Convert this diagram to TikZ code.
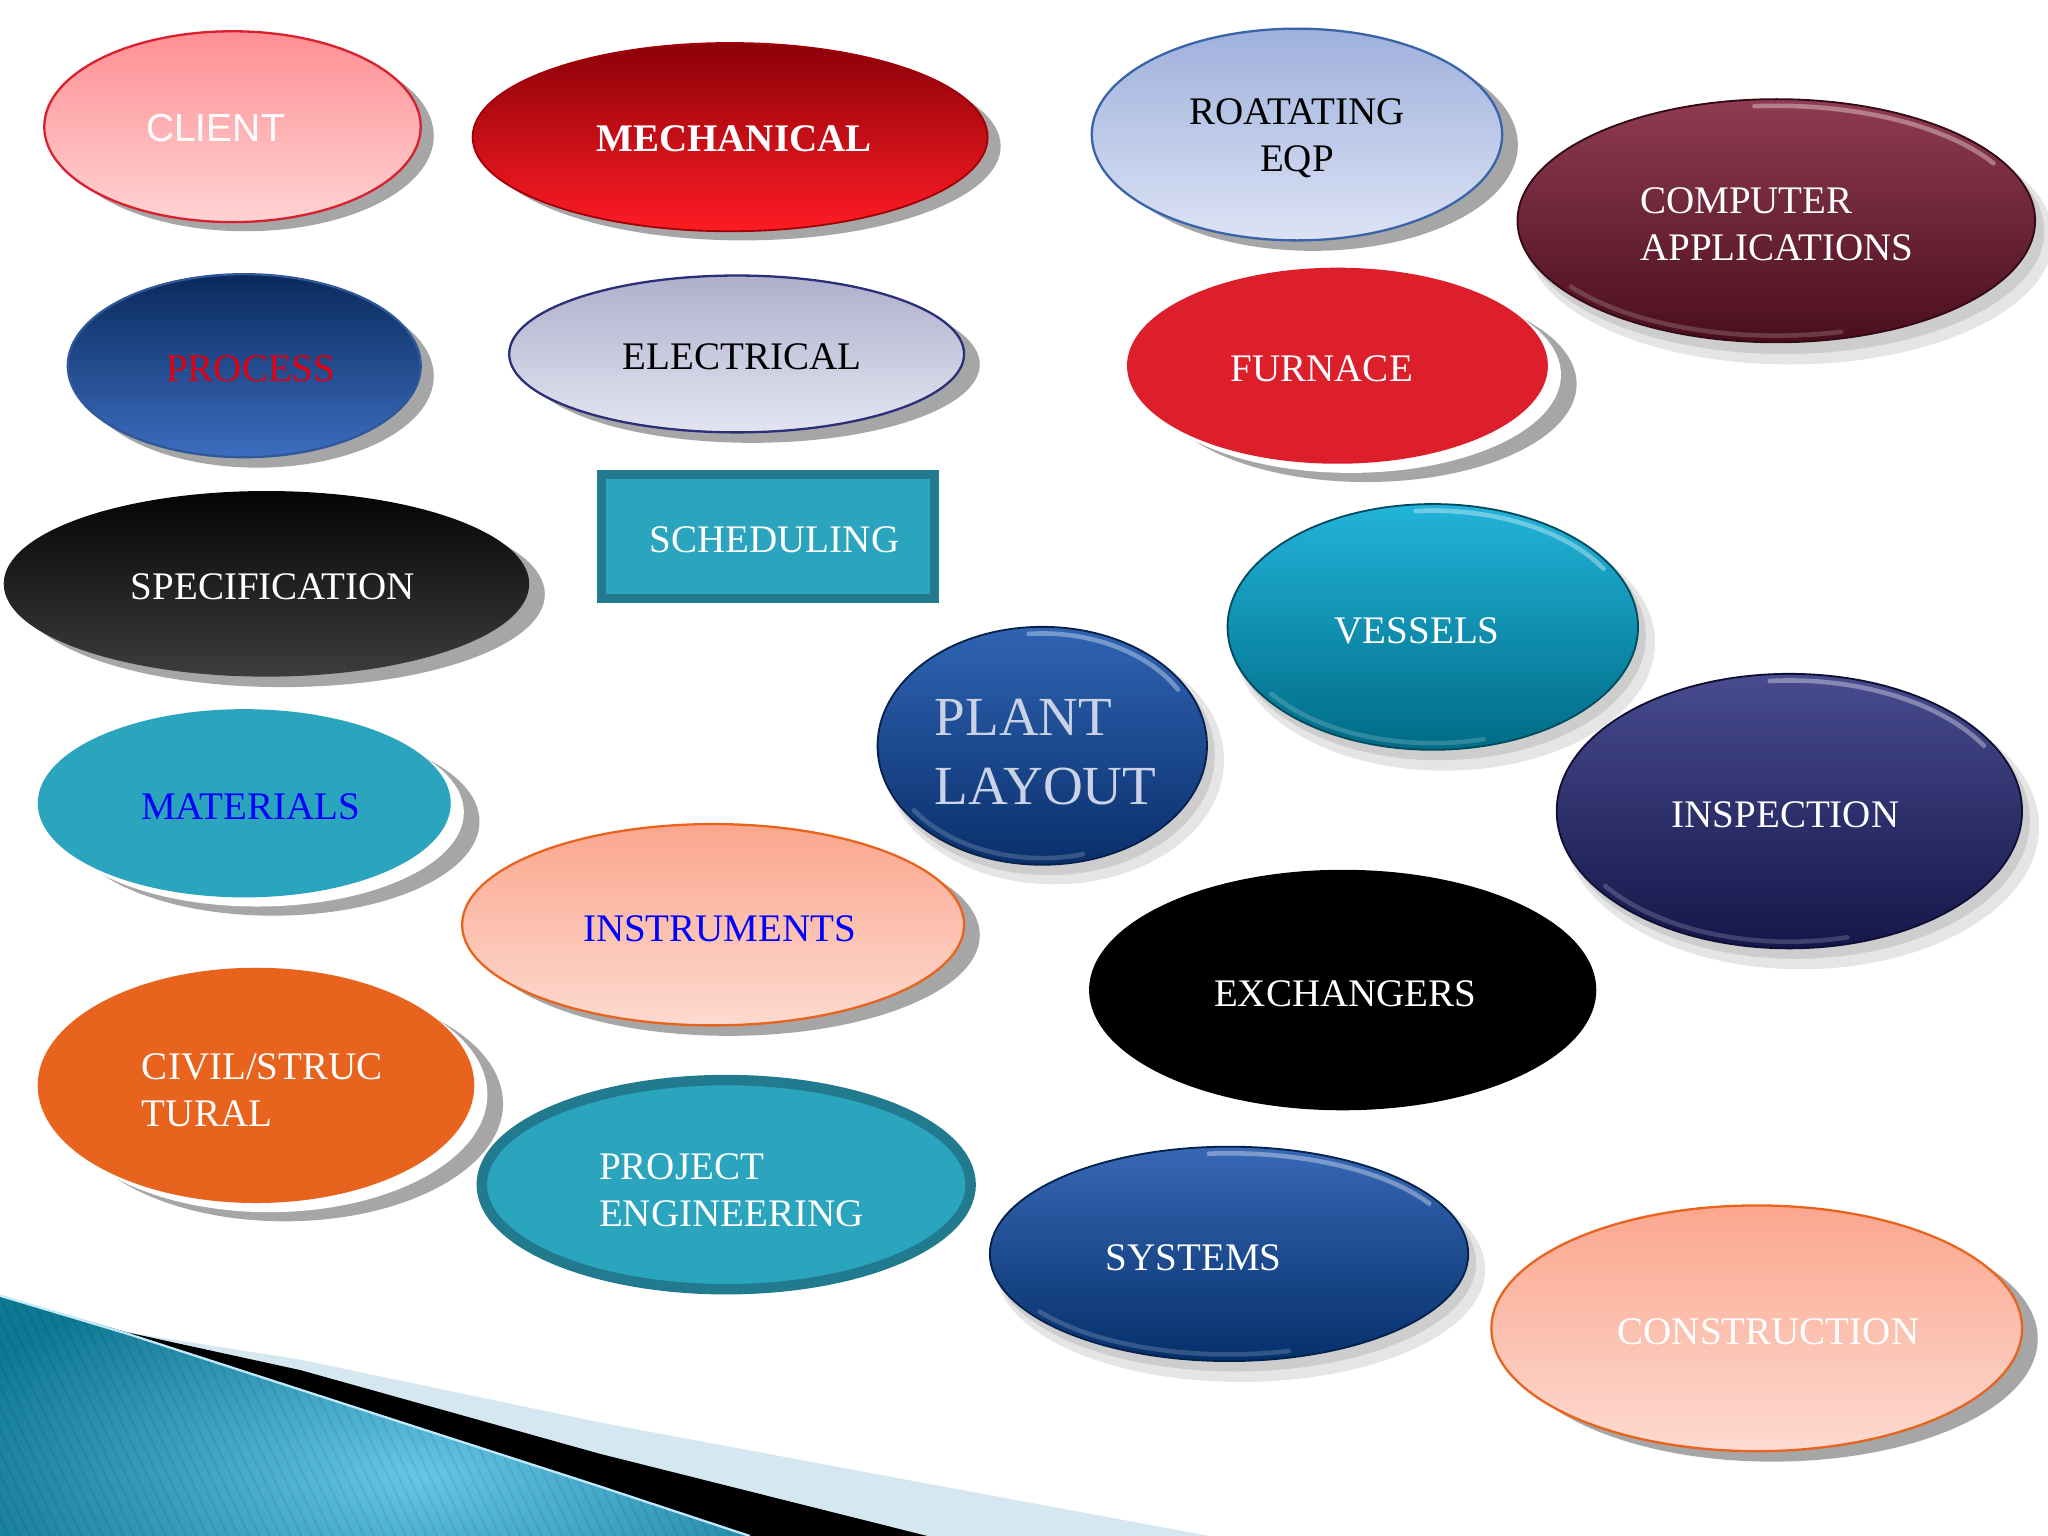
\documentclass[tikz,border=0pt]{standalone}
\usepackage{fontspec}
\setmainfont{Liberation Serif}
\setsansfont{Liberation Sans}
\usetikzlibrary{shapes.geometric,calc}
\definecolor{shgray}{HTML}{A6A6A6}
\definecolor{pinkT}{HTML}{FF8F94}
\definecolor{pinkB}{HTML}{FFD3D3}
\definecolor{clientline}{HTML}{D9202E}
\definecolor{mechT}{HTML}{8B0008}
\definecolor{mechB}{HTML}{FF1C24}
\definecolor{rotT}{HTML}{9EB0DC}
\definecolor{rotB}{HTML}{DCE3F5}
\definecolor{rotline}{HTML}{3A64A8}
\definecolor{compT}{HTML}{8F3B53}
\definecolor{compB}{HTML}{4A0E1E}
\definecolor{procT}{HTML}{0A2A5C}
\definecolor{procB}{HTML}{3C6DC0}
\definecolor{elecT}{HTML}{AEAFCB}
\definecolor{elecB}{HTML}{E4E5F2}
\definecolor{elecline}{HTML}{2B2F78}
\definecolor{furn}{HTML}{DC1F2A}
\definecolor{tealA}{HTML}{2BA4BE}
\definecolor{tealD}{HTML}{217A8E}
\definecolor{specT}{HTML}{040406}
\definecolor{specB}{HTML}{3D3D3F}
\definecolor{vesT}{HTML}{22B4DA}
\definecolor{vesB}{HTML}{006B86}
\definecolor{plantT}{HTML}{2F64B4}
\definecolor{plantB}{HTML}{0A2F6B}
\definecolor{plantTxt}{HTML}{CAD3E6}
\definecolor{inspT}{HTML}{484B8E}
\definecolor{inspB}{HTML}{15164A}
\definecolor{salT}{HTML}{FBA68E}
\definecolor{salB}{HTML}{FDDAD0}
\definecolor{orangeL}{HTML}{E8641E}
\definecolor{sysT}{HTML}{3868B5}
\definecolor{sysB}{HTML}{05306B}
\definecolor{bandL}{HTML}{D5E7F1}
\definecolor{decoDark}{HTML}{0E7892}
\definecolor{decoLight}{HTML}{66C6E8}
\definecolor{txtblue}{HTML}{0000FF}
\definecolor{txtred}{HTML}{E00010}
\newcommand\lblfont{\fontsize{8.5pt}{10.25pt}\selectfont}
\newcommand\glosshl[4]{%
  \draw[white, opacity=0.35, line width=0.035cm, line cap=round]
    ($(#1,#2)+(-95:#3 and #4)$) arc[start angle=-95, end angle=-30, x radius=#3, y radius=#4];
  \draw[white, opacity=0.18, line width=0.035cm, line cap=round]
    ($(#1,#2)+(75:#3 and #4)$) arc[start angle=75, end angle=145, x radius=#3, y radius=#4];
}
\tikzset{
  blob/.style 2 args={ellipse, inner sep=0pt, outer sep=0pt, minimum width=#1*0.02cm, minimum height=#2*0.02cm},
  sh/.style={fill=shgray, draw=none},
  soft/.style={fill=black, opacity=0.1, draw=none},
  gap/.style={fill=white, draw=none},
  lbl/.style={font=\lblfont, inner sep=0pt, text=white},
  lblL/.style={lbl, align=left, anchor=west},
}
\begin{document}
\begin{tikzpicture}[x=0.01cm, y=-0.01cm]
\useasboundingbox (0,0) rectangle (1568,1176);
\fill[white] (0,0) rectangle (1568,1176);

% ---- bottom-left decoration ----
\fill[bandL] (97,1020) -- (230,1041) -- (459,1089) -- (689,1132) -- (926,1176) -- (0,1176) -- (0,992) -- cycle;
\fill[black] (97,1020) -- (230,1049) -- (459,1113) -- (710,1176) -- (0,1176) -- (0,992) -- cycle;
\begin{scope}
  \clip (0,992) -- (97,1021) -- (230,1064) -- (459,1138) -- (574,1176) -- (0,1176) -- cycle;
  \shade[inner color=decoLight, outer color=decoDark] (-60,960) rectangle (700,1300);
  \foreach \i in {-300,-292,...,600} \draw[black, opacity=0.07, line width=0.4pt] (\i,985) -- ++(95,200);
\end{scope}
\draw[white!75!cyan, line width=0.5pt] (0,992) -- (97,1021) -- (230,1064) -- (459,1138) -- (574,1176);

% ---- CLIENT ----
\node[blob={144}{73}, sh] (clientS) at (188,104) {};
\node[blob={144}{73}, top color=pinkT, bottom color=pinkB, draw=clientline, line width=0.5pt] (client) at (178,97) {};
\node[lbl, font=\sffamily\lblfont] (clientT) at (165,98) {CLIENT};

% ---- MECHANICAL ----
\node[blob={197}{72}, sh] (mechS) at (569,112) {};
\node[blob={197}{72}, top color=mechT, bottom color=mechB, draw=mechT!80!red, line width=0.4pt] (mech) at (559,105) {};
\node[lbl, font=\bfseries\lblfont] (mechT) at (562,106) {MECHANICAL};

% ---- ROATATING EQP ----
\node[blob={157}{81}, sh] (rotS) at (1005,111) {};
\node[blob={157}{81}, top color=rotT, bottom color=rotB, draw=rotline, line width=0.5pt] (rot) at (993,103) {};
\node[lbl, text=black, align=center] (rotT) at (993,106) {ROATATING\\EQP};

% ---- COMPUTER APPLICATIONS ----
\node[blob={202}{97}, soft] (compS2) at (1370,182) {};
\node[blob={199}{94}, soft] (compS) at (1366,177) {};
\node[blob={198}{93}, top color=compT, bottom color=compB, draw=compB!70!black, line width=0.4pt] (comp) at (1360,169) {};
\glosshl{1360}{169}{192}{88}
\node[lblL] (compT) at (1255,172) {COMPUTER\\APPLICATIONS};

% ---- FURNACE ----
\node[blob={161}{75}, sh] (furnS) at (1046,294) {};
\node[blob={161}{75}, gap] (furnG) at (1034,287) {};
\node[blob={161}{75}, fill=furn] (furn) at (1024,280) {};
\node[lbl] (furnT) at (1012,282) {FURNACE};

% ---- PROCESS ----
\node[blob={135}{70}, sh] (procS) at (197,288) {};
\node[blob={135}{70}, top color=procT, bottom color=procB, draw=procB!80!black, line width=0.5pt] (proc) at (187,280) {};
\node[lbl, text=txtred] (procT) at (192,282) {PROCESS};

% ---- ELECTRICAL ----
\node[blob={174}{60}, sh] (elecS) at (576,279) {};
\node[blob={174}{60}, top color=elecT, bottom color=elecB, draw=elecline, line width=0.5pt] (elec) at (564,271) {};
\node[lbl, text=black] (elecT) at (568,273) {ELECTRICAL};

% ---- SCHEDULING ----
\node[rectangle, minimum width=2.55cm, minimum height=0.95cm, fill=tealA, draw=tealD, line width=0.07cm] (sched) at (588,411) {};
\node[lbl] (schedT) at (593,413) {SCHEDULING};

% ---- SPECIFICATION ----
\node[blob={201}{71}, sh] (specS) at (216,455) {};
\node[blob={201}{71}, top color=specT, bottom color=specB] (spec) at (204,447) {};
\node[lbl] (specT) at (209,449) {SPECIFICATION};

% ---- VESSELS ----
\node[blob={161}{98}, soft] (vesS2) at (1106,492) {};
\node[blob={158}{95}, soft] (vesS) at (1102,487) {};
\node[blob={157}{94}, top color=vesT, bottom color=vesB, draw=vesB!70!black, line width=0.4pt] (ves) at (1097,480) {};
\glosshl{1097}{480}{151}{89}
\node[lbl] (vesT) at (1085,483) {VESSELS};

% ---- PLANT LAYOUT ----
\node[blob={130}{95}, soft] (plantS2) at (807,582) {};
\node[blob={127}{92}, soft] (plantS) at (803,578) {};
\node[blob={126}{91}, top color=plantT, bottom color=plantB, draw=plantB!70!black, line width=0.4pt] (plant) at (798,571) {};
\glosshl{798}{571}{120}{86}
\node[lblL, text=plantTxt, font=\fontsize{12pt}{15.1pt}\selectfont] (plantT) at (715,576) {PLANT\\LAYOUT};

% ---- INSPECTION ----
\node[blob={182}{109}, soft] (inspS2) at (1379,633) {};
\node[blob={179}{106}, soft] (inspS) at (1375,628) {};
\node[blob={178}{105}, top color=inspT, bottom color=inspB, draw=inspB!70!black, line width=0.4pt] (insp) at (1370,621) {};
\glosshl{1370}{621}{172}{100}
\node[lbl] (inspT) at (1367,624) {INSPECTION};

% ---- MATERIALS ----
\node[blob={158}{72}, sh] (matS) at (209,629) {};
\node[blob={158}{72}, gap] (matG) at (197,622) {};
\node[blob={158}{72}, fill=tealA] (mat) at (187,615) {};
\node[lbl, text=txtblue] (matT) at (192,618) {MATERIALS};

% ---- INSTRUMENTS ----
\node[blob={192}{77}, sh] (instS) at (558,716) {};
\node[blob={192}{77}, top color=salT, bottom color=salB, draw=orangeL, line width=0.5pt] (inst) at (546,708) {};
\node[lbl, text=txtblue] (instT) at (551,711) {INSTRUMENTS};

% ---- EXCHANGERS ----
\node[blob={194}{92}, fill=black] (exch) at (1028,758) {};
\node[lbl] (exchT) at (1030,761) {EXCHANGERS};

% ---- CIVIL/STRUCTURAL ----
\node[blob={167}{90}, sh] (civS) at (218,845) {};
\node[blob={167}{90}, gap] (civG) at (206,838) {};
\node[blob={167}{90}, fill=orangeL] (civ) at (196,831) {};
\node[lblL] (civT) at (108,835) {CIVIL/STRUC\\TURAL};

% ---- PROJECT ENGINEERING ----
\node[blob={187}{80}, fill=tealA, draw=tealD, line width=0.08cm] (proj) at (556,907) {};
\node[lblL] (projT) at (458,911) {PROJECT\\ENGINEERING};

% ---- SYSTEMS ----
\node[blob={187}{86}, soft] (sysS2) at (950,972) {};
\node[blob={184}{83}, soft] (sysS) at (946,967) {};
\node[blob={183}{82}, top color=sysT, bottom color=sysB, draw=sysB!70!black, line width=0.4pt] (sys) at (941,960) {};
\glosshl{941}{960}{177}{77}
\node[lbl] (sysT) at (914,963) {SYSTEMS};

% ---- CONSTRUCTION ----
\node[blob={203}{94}, sh] (conS) at (1357,1025) {};
\node[blob={203}{94}, top color=salT, bottom color=salB, draw=orangeL, line width=0.5pt] (con) at (1345,1017) {};
\node[lbl] (conT) at (1354,1020) {CONSTRUCTION};
\end{tikzpicture}
\end{document}
